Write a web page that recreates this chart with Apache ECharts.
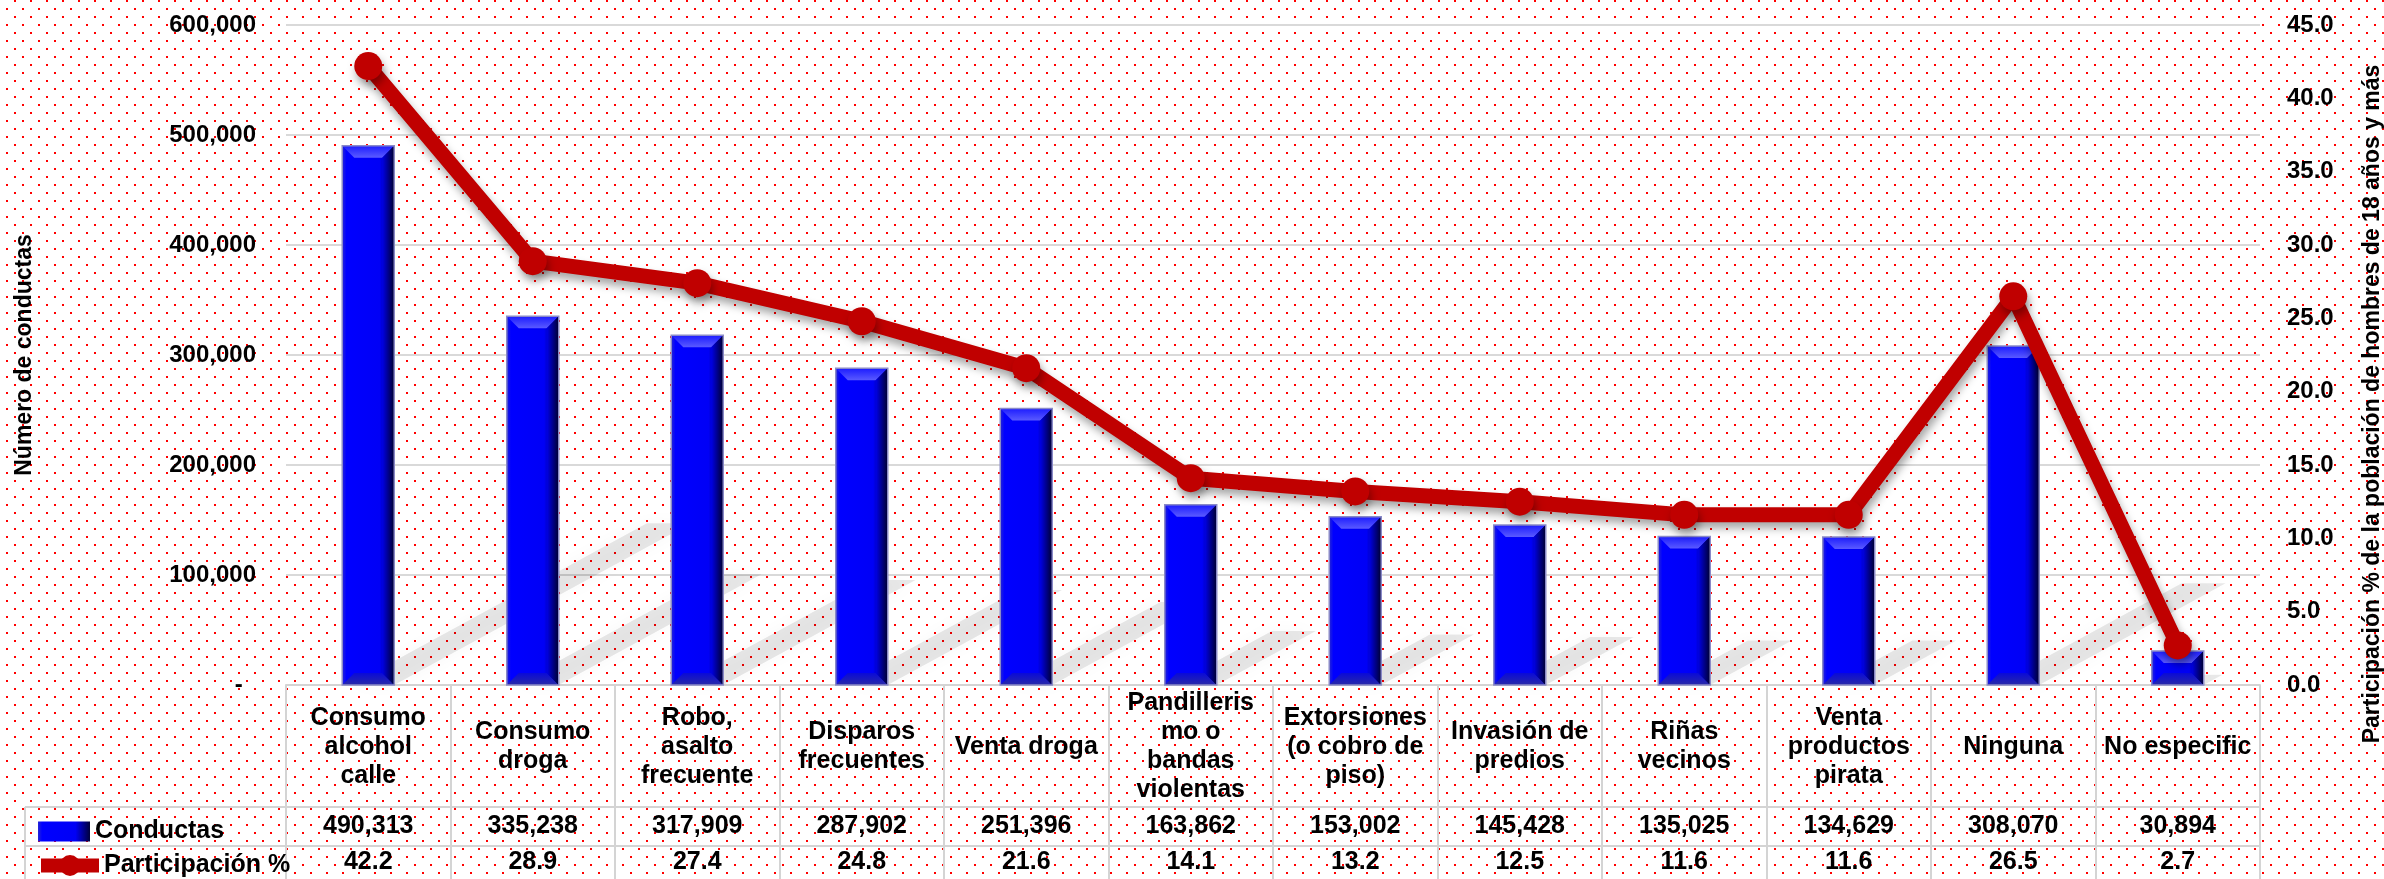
<!DOCTYPE html>
<html>
<head>
<meta charset="utf-8">
<script src="https://cdn.jsdelivr.net/npm/echarts@6/dist/echarts.min.js"></script>
<style>
  html, body { margin: 0; padding: 0; background: #fff; }
  #chart { width: 2384px; height: 879px; }
</style>
</head>
<body>
<div id="chart"></div>
<script>
// datos
const categories = [
  'Consumo\nalcohol\ncalle', 'Consumo\ndroga', 'Robo,\nasalto\nfrecuente', 'Disparos\nfrecuentes',
  'Venta droga', 'Pandilleris\nmo o\nbandas\nviolentas', 'Extorsiones\n(o cobro de\npiso)',
  'Invasión de\npredios', 'Riñas\nvecinos', 'Venta\nproductos\npirata', 'Ninguna', 'No especific'
];
const conductas = [490313, 335238, 317909, 287902, 251396, 163862, 153002, 145428, 135025, 134629, 308070, 30894];
const participacion = [42.2, 28.9, 27.4, 24.8, 21.6, 14.1, 13.2, 12.5, 11.6, 11.6, 26.5, 2.7];
const conductasLabels = conductas.map(v => v.toLocaleString('en-US'));
const participacionLabels = participacion.map(v => v.toFixed(1));

const FONT = '"Liberation Sans", Arial, sans-serif';
const GRID = { left: 286, right: 124, top: 25, bottom: 194, outerBoundsMode: 'none' };
const LINE_GREY = '#d4d4d4';

// fondo punteado
const tile = document.createElement('canvas');
tile.width = 16; tile.height = 16;
const tctx = tile.getContext('2d');
tctx.fillStyle = '#ff0000';
tctx.fillRect(14, 0, 2, 2);
tctx.fillRect(6, 8, 2, 2);

const chart = echarts.init(document.getElementById('chart'));

const barGradient = new echarts.graphic.LinearGradient(0, 0, 1, 0, [
  { offset: 0, color: '#2626d6' },
  { offset: 0.08, color: '#0000ff' },
  { offset: 0.72, color: '#0000f6' },
  { offset: 1, color: '#00003a' }
]);

function renderBar(params, api) {
  const i = api.value(0);
  const top = api.coord([i, api.value(1)]);
  const base = api.coord([i, 0]);
  const w = 52, b = 12;
  const xl = top[0] - w / 2, xr = top[0] + w / 2, yt = top[1], yb = base[1];
  const h = yb - yt;
  const sdx = 0.55 * h, sdy = 0.3 * h;
  return {
    type: 'group',
    children: [
      { // sombra
        type: 'polygon', z2: -10, silent: true,
        shape: { points: [[xl + 8, yb], [xr, yb], [xr + sdx, yb - sdy], [xl + 8 + sdx, yb - sdy]] },
        style: { fill: 'rgba(0,0,0,0.09)', shadowBlur: 18, shadowColor: 'rgba(0,0,0,0.35)' }
      },
      { type: 'rect', shape: { x: xl, y: yt, width: w, height: h }, style: { fill: barGradient } },
      {
        type: 'polygon',
        shape: { points: [[xl, yt], [xr, yt], [xr - b, yt + b], [xl + b, yt + b]] },
        style: { fill: new echarts.graphic.LinearGradient(0, 0, 0, 1, [
          { offset: 0, color: '#1c1cff' }, { offset: 1, color: '#5a5aff' }]) }
      },
      {
        type: 'polygon',
        shape: { points: [[xl, yb], [xr, yb], [xr - b, yb - b], [xl + b, yb - b]] },
        style: { fill: new echarts.graphic.LinearGradient(0, 0, 0, 1, [
          { offset: 0, color: '#0a0ad8' }, { offset: 1, color: '#2a2aa8' }]) }
      },
      {
        type: 'polygon',
        shape: { points: [[xr, yt], [xr, yb], [xr - b, yb - b], [xr - b, yt + b]] },
        style: { fill: new echarts.graphic.LinearGradient(0, 0, 1, 0, [
          { offset: 0, color: '#0000e6' }, { offset: 1, color: '#000030' }]) }
      },
      { type: 'rect', shape: { x: xl, y: yt, width: w, height: h },
        style: { fill: null, stroke: '#8a8ac8', lineWidth: 1.5 } }
    ]
  };
}

// bordes de la tabla
const tableLines = [
  { type: 'line', shape: { x1: 25, y1: 807, x2: 2384 - GRID.right, y2: 807 } },
  { type: 'line', shape: { x1: 25, y1: 846, x2: 2384 - GRID.right, y2: 846 } },
  { type: 'line', shape: { x1: 25, y1: 807, x2: 25, y2: 879 } }
].map(l => Object.assign(l, { style: { stroke: LINE_GREY, lineWidth: 2 }, silent: true }));

const labelStyle = { fontFamily: FONT, fontWeight: 'bold', fontSize: 25, color: '#000' };
const legendText = { fontFamily: FONT, fontWeight: 'bold', fontSize: 25, color: '#000' };

chart.setOption({
  backgroundColor: { image: tile, repeat: 'repeat' },
  animation: false,
  textStyle: { fontFamily: FONT },
  grid: GRID,
  legend: [
    {
      left: 33, top: 814, itemWidth: 52, itemHeight: 20, itemGap: 0,
      textStyle: legendText,
      data: [{ name: 'Conductas', icon: 'rect' }]
    },
    {
      left: 29, top: 848, itemWidth: 58, itemHeight: 26, itemGap: 0,
      textStyle: legendText,
      lineStyle: { width: 14 },
      data: [{ name: 'Participación %' }]
    }
  ],
  xAxis: [
    {
      type: 'category', data: categories, position: 'bottom',
      axisLine: { lineStyle: { color: LINE_GREY, width: 2 } },
      axisTick: { show: true, length: 194, lineStyle: { color: LINE_GREY, width: 2 } },
      axisLabel: Object.assign({ margin: 62, verticalAlign: 'middle', lineHeight: 29, interval: 0 }, labelStyle)
    },
    {
      type: 'category', data: conductasLabels, position: 'bottom',
      axisLine: { show: false }, axisTick: { show: false },
      axisLabel: Object.assign({ margin: 141, verticalAlign: 'middle', interval: 0 }, labelStyle)
    },
    {
      type: 'category', data: participacionLabels, position: 'bottom',
      axisLine: { show: false }, axisTick: { show: false },
      axisLabel: Object.assign({ margin: 177, verticalAlign: 'middle', interval: 0 }, labelStyle)
    }
  ],
  yAxis: [
    {
      type: 'value', min: 0, max: 600000, interval: 100000,
      name: 'Número de conductas', nameLocation: 'middle', nameGap: 250,
      nameTextStyle: { fontFamily: FONT, fontWeight: 'bold', fontSize: 23, color: '#000' },
      axisLine: { show: false }, axisTick: { show: false },
      splitLine: { lineStyle: { color: '#d9d9d9', width: 2 } },
      axisLabel: {
        margin: 30, fontFamily: FONT, fontWeight: 'bold', fontSize: 24, color: '#000',
        formatter: v => (v === 0 ? '-  ' : v.toLocaleString('en-US'))
      }
    },
    {
      type: 'value', min: 0, max: 45, interval: 5, position: 'right',
      axisLine: { show: false }, axisTick: { show: false }, splitLine: { show: false },
      axisLabel: {
        margin: 27, fontFamily: FONT, fontWeight: 'bold', fontSize: 24, color: '#000',
        formatter: v => v.toFixed(1)
      }
    }
  ],
  graphic: tableLines.concat([
    {
      type: 'text', x: 2373, y: 404, rotation: Math.PI / 2, silent: true,
      style: {
        text: 'Participación % de la población de hombres de 18 años y más',
        fontFamily: FONT, fontWeight: 'bold', fontSize: 23, fill: '#000',
        align: 'center', verticalAlign: 'middle'
      }
    }
  ]),
  series: [
    {
      name: 'Conductas', type: 'custom', renderItem: renderBar,
      data: conductas.map((v, i) => [i, v]), encode: { x: 0, y: 1 },
      itemStyle: { color: barGradient }, z: 2
    },
    {
      name: 'Participación %', type: 'line', yAxisIndex: 1, data: participacion,
      symbol: 'circle', symbolSize: 28, z: 5,
      lineStyle: { color: '#c00000', width: 15, shadowColor: 'rgba(0,0,0,0.35)', shadowBlur: 8, shadowOffsetY: 6, shadowOffsetX: 2 },
      itemStyle: { color: '#c00000', shadowColor: 'rgba(0,0,0,0.35)', shadowBlur: 8, shadowOffsetY: 6, shadowOffsetX: 2 }
    }
  ]
});
</script>
</body>
</html>
